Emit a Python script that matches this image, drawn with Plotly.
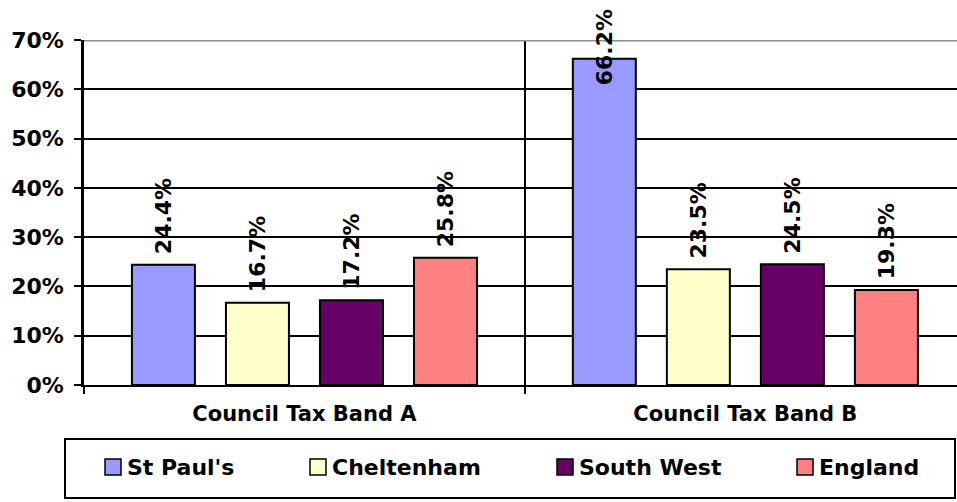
import plotly.graph_objects as go

# Share of dwellings in each council tax band, by area (%)
bands = ["Council Tax Band A", "Council Tax Band B"]
series_names = ["St Paul's", "Cheltenham", "South West", "England"]
st_pauls = [24.4, 66.2]
cheltenham = [16.7, 23.5]
south_west = [17.2, 24.5]
england = [25.8, 19.3]
colours = ["#9999FF", "#FFFFCC", "#660066", "#FF8080"]

y_ticks = [0, 10, 20, 30, 40, 50, 60, 70]
y_tick_labels = [f"{t}%" for t in y_ticks]

series_values = [st_pauls, cheltenham, south_west, england]

W, H = 957, 502
M_L, M_R, M_T, M_B = 84, 0, 40, 117
PW, PH = W - M_L - M_R, H - M_T - M_B

FONT = "DejaVu Sans"
BARGAP = 0.147
BARGROUPGAP = 0.33


def px_x(px):
    return (px - M_L) / PW


def px_y(py):
    return (H - M_B - py) / PH


fig = go.Figure()
for name, vals, col in zip(series_names, series_values, colours):
    fig.add_trace(go.Bar(
        name=name, x=bands, y=vals,
        marker=dict(color=col, line=dict(color="black", width=2)),
        showlegend=False,
    ))

# Rotated value labels above each bar (kept inside the chart area)
n = len(series_names)
slot = (1 - BARGAP) / n
for k, vals in enumerate(series_values):
    for i, v in enumerate(vals):
        xpos = i + (k - (n - 1) / 2) * slot
        common = dict(x=xpos, xref="x", text=f"{v:.1f}%", textangle=-90,
                      showarrow=False, font=dict(family=FONT, size=22, color="black", weight="bold"))
        if v > 60:
            fig.add_annotation(y=px_y(7), yref="paper", yanchor="top", **common)
        else:
            fig.add_annotation(y=v, yref="y", yanchor="bottom", yshift=9, **common)

# Grey line along the top of the plot area
fig.add_shape(type="line", xref="paper", yref="y", x0=0, x1=1, y0=70, y1=70,
              line=dict(color="#8c8c8c", width=3), layer="above")

# Legend drawn as a framed box of swatches and names
fig.add_shape(type="rect", xref="paper", yref="paper",
              x0=px_x(65), x1=px_x(955), y0=px_y(498), y1=px_y(439),
              line=dict(color="black", width=2), fillcolor="white")
swatch_left = [105, 310, 557, 797]
for name, col, sx in zip(series_names, colours, swatch_left):
    fig.add_shape(type="rect", xref="paper", yref="paper",
                  x0=px_x(sx), x1=px_x(sx + 16), y0=px_y(475), y1=px_y(459),
                  line=dict(color="black", width=1.5), fillcolor=col)
    fig.add_annotation(x=px_x(sx + 20), y=px_y(467), xref="paper", yref="paper",
                       xanchor="left", yanchor="middle", text=name, showarrow=False,
                       font=dict(family=FONT, size=22, color="black", weight="bold"))

fig.update_layout(
    width=W, height=H,
    margin=dict(l=M_L, r=M_R, t=M_T, b=M_B, pad=0),
    paper_bgcolor="white", plot_bgcolor="white",
    barmode="group", bargap=BARGAP, bargroupgap=BARGROUPGAP,
    font=dict(family=FONT, color="black"),
    xaxis=dict(
        type="category", range=[-0.5, 1.48],
        tickson="boundaries", ticks="outside", ticklen=7, tickwidth=2, tickcolor="black",
        showgrid=True, gridcolor="black", gridwidth=2,
        showline=True, linecolor="black", linewidth=2,
        tickfont=dict(family=FONT, size=21, color="black", weight="bold"),
        ticklabelstandoff=9,
    ),
    yaxis=dict(
        range=[0, 70], tickvals=y_ticks, ticktext=y_tick_labels,
        ticks="outside", ticklen=7, tickwidth=2, tickcolor="black",
        showgrid=True, gridcolor="black", gridwidth=2,
        showline=True, linecolor="black", linewidth=2.5,
        zeroline=False,
        tickfont=dict(family=FONT, size=22, color="black", weight="bold"),
        ticklabelstandoff=6,
    ),
)

fig.write_html("out.html")
